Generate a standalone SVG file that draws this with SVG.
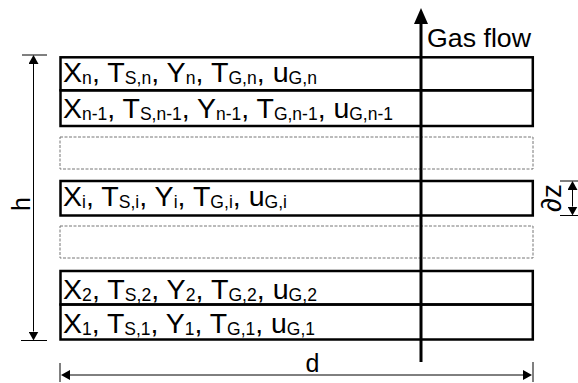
<svg xmlns="http://www.w3.org/2000/svg" width="578" height="383" viewBox="0 0 578 383">
  <style>
    .cell { fill: none; stroke: #000; stroke-width: 2.5; }
    .ghost { fill: none; stroke: #777; stroke-width: 1; stroke-dasharray: 3 1.5; }
    .lbl { font-family: "Liberation Sans", Arial, sans-serif; font-size: 28.5px; fill: #000; }
    .s { font-size: 17.5px; }
    .dim { stroke: #000; stroke-width: 1; fill: none; }
    .dimtxt { font-family: "Liberation Sans", Arial, sans-serif; font-size: 25px; fill: #000; }
  </style>
  <defs>
    <marker id="flowHead" viewBox="0 0 16 14" refX="0" refY="7" markerWidth="16" markerHeight="14" markerUnits="userSpaceOnUse" orient="auto">
      <path d="M0,0 L16,7 L0,14 Z" fill="#000"/>
    </marker>
    <marker id="dimHead" viewBox="0 0 9 10" refX="0" refY="5" markerWidth="9" markerHeight="10" markerUnits="userSpaceOnUse" orient="auto-start-reverse">
      <path d="M0,0 L9,5 L0,10 Z" fill="#000"/>
    </marker>
  </defs>

  <rect width="578" height="383" fill="#fff"/>

  <!-- control volumes (cells) -->
  <g id="cell-n">
    <rect class="cell" x="60.5" y="57.3" width="472.3" height="33"/>
    <text class="lbl" x="63" y="82" textLength="254" lengthAdjust="spacingAndGlyphs">X<tspan class="s" dy="1.5">n</tspan><tspan dy="-1.5">, T</tspan><tspan class="s" dy="1.5">S,n</tspan><tspan dy="-1.5">, Y</tspan><tspan class="s" dy="1.5">n</tspan><tspan dy="-1.5">, T</tspan><tspan class="s" dy="1.5">G,n</tspan><tspan dy="-1.5">, u</tspan><tspan class="s" dy="1.5">G,n</tspan></text>
  </g>
  <g id="cell-n-1">
    <rect class="cell" x="60.5" y="90.3" width="472.3" height="35.7"/>
    <text class="lbl" x="63" y="118" textLength="330" lengthAdjust="spacingAndGlyphs">X<tspan class="s" dy="1.5">n-1</tspan><tspan dy="-1.5">, T</tspan><tspan class="s" dy="1.5">S,n-1</tspan><tspan dy="-1.5">, Y</tspan><tspan class="s" dy="1.5">n-1</tspan><tspan dy="-1.5">, T</tspan><tspan class="s" dy="1.5">G,n-1</tspan><tspan dy="-1.5">, u</tspan><tspan class="s" dy="1.5">G,n-1</tspan></text>
  </g>
  <g id="cell-gap-upper">
    <rect class="ghost" x="60" y="137" width="473" height="32"/>
  </g>
  <g id="cell-i">
    <rect class="cell" x="60.5" y="181" width="472.3" height="34.5"/>
    <text class="lbl" x="63" y="206" textLength="224" lengthAdjust="spacingAndGlyphs">X<tspan class="s" dy="1.5">i</tspan><tspan dy="-1.5">, T</tspan><tspan class="s" dy="1.5">S,i</tspan><tspan dy="-1.5">, Y</tspan><tspan class="s" dy="1.5">i</tspan><tspan dy="-1.5">, T</tspan><tspan class="s" dy="1.5">G,i</tspan><tspan dy="-1.5">, u</tspan><tspan class="s" dy="1.5">G,i</tspan></text>
  </g>
  <g id="cell-gap-lower">
    <rect class="ghost" x="60" y="226" width="473" height="32"/>
  </g>
  <g id="cell-2">
    <rect class="cell" x="60.5" y="271" width="472.3" height="33.5"/>
    <text class="lbl" x="63" y="299" textLength="254" lengthAdjust="spacingAndGlyphs">X<tspan class="s" dy="1.5">2</tspan><tspan dy="-1.5">, T</tspan><tspan class="s" dy="1.5">S,2</tspan><tspan dy="-1.5">, Y</tspan><tspan class="s" dy="1.5">2</tspan><tspan dy="-1.5">, T</tspan><tspan class="s" dy="1.5">G,2</tspan><tspan dy="-1.5">, u</tspan><tspan class="s" dy="1.5">G,2</tspan></text>
  </g>
  <g id="cell-1">
    <rect class="cell" x="60.5" y="304.5" width="472.3" height="35"/>
    <text class="lbl" x="63" y="333" textLength="252" lengthAdjust="spacingAndGlyphs">X<tspan class="s" dy="1.5">1</tspan><tspan dy="-1.5">, T</tspan><tspan class="s" dy="1.5">S,1</tspan><tspan dy="-1.5">, Y</tspan><tspan class="s" dy="1.5">1</tspan><tspan dy="-1.5">, T</tspan><tspan class="s" dy="1.5">G,1</tspan><tspan dy="-1.5">, u</tspan><tspan class="s" dy="1.5">G,1</tspan></text>
  </g>

  <!-- gas flow arrow and dimension lines -->
  <g id="connectors">
    <line x1="421" y1="362" x2="421" y2="24" stroke="#000" stroke-width="3" marker-end="url(#flowHead)"/>
    <text class="dimtxt" x="427" y="47" textLength="104" lengthAdjust="spacingAndGlyphs">Gas flow</text>

    <!-- height h -->
    <line class="dim" x1="22" y1="55" x2="47" y2="55"/>
    <line class="dim" x1="21" y1="340.5" x2="47" y2="340.5"/>
    <line class="dim" x1="33.5" y1="64" x2="33.5" y2="331.5" marker-start="url(#dimHead)" marker-end="url(#dimHead)"/>
    <text class="dimtxt" transform="translate(30,204) rotate(-90)" text-anchor="middle">h</text>

    <!-- cell thickness dz -->
    <line class="dim" x1="560" y1="181" x2="578" y2="181"/>
    <line class="dim" x1="560" y1="215.5" x2="578" y2="215.5"/>
    <line class="dim" x1="572.5" y1="190" x2="572.5" y2="206.5" marker-start="url(#dimHead)" marker-end="url(#dimHead)"/>
    <text class="dimtxt" style="font-size:28px" transform="translate(561,198) rotate(-90)" text-anchor="middle">∂z</text>

    <!-- diameter d -->
    <line class="dim" x1="60" y1="363" x2="60" y2="382"/>
    <line class="dim" x1="533" y1="362" x2="533" y2="382"/>
    <line class="dim" x1="70" y1="375" x2="523" y2="375" marker-start="url(#dimHead)" marker-end="url(#dimHead)"/>
    <text class="dimtxt" x="312.5" y="372" text-anchor="middle">d</text>
  </g>
</svg>
